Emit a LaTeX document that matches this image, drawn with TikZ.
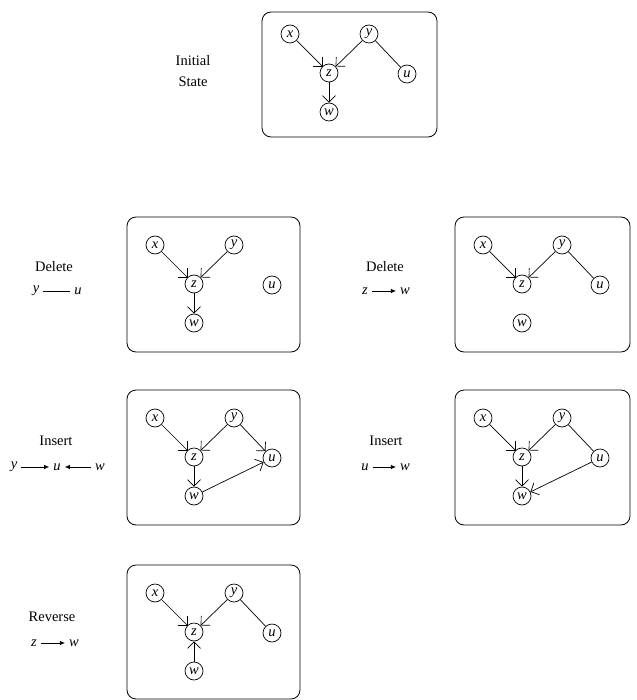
\documentclass[tikz,border=0pt]{standalone}
\usepackage{fontspec}
\setmainfont{Liberation Serif}
\usetikzlibrary{arrows.meta}

% the five variables of one graph, relative to its box corner
\newcommand\placenodes{%
    \node[vertex] (x) at (28,28) {x};
    \node[vertex] (y) at (107,28) {y};
    \node[vertex] (z) at (67,67) {z};
    \node[vertex] (u) at (145,68) {u};
    \node[vertex] (w) at (67,106) {w};
}

\begin{document}
\begin{tikzpicture}[x=1pt, y=-1pt, font=\fontsize{14.5}{21}\selectfont,
    vertex/.style={circle, draw, line width=0.7pt, inner sep=0pt, minimum size=18pt, font=\fontsize{14.5}{16}\selectfont\itshape},
    graphbox/.style={draw, line width=0.8pt, rounded corners=9pt},
    edge/.style={line width=0.7pt},
    arc/.style={edge, -{Straight Barb[length=6.5pt, width=13pt]}},
    var/.style={inner sep=1pt, font=\fontsize{14.5}{16}\selectfont\itshape},
    op/.style={edge, shorten <=3pt, shorten >=3pt, -{Latex[length=5pt, width=4.5pt]}}]
    \useasboundingbox (0,0) rectangle (636,700);

    % Initial state
    \node[align=center] (initlabel) at (193,71) {Initial\\State};
    \begin{scope}[shift={(262,6)}, name prefix=init-]
        \draw[graphbox] (0,6) rectangle (175,131);
        \placenodes
        \draw[arc] (x) -- (z);
        \draw[arc] (y) -- (z);
        \draw[edge] (y) -- (u);
        \draw[arc] (z) -- (w);
    \end{scope}

    % Delete y -- u
    \node (dellabel) at (54,267) {Delete};
    \node[var] (dely) at (36,291) {y};
    \node[var] (delu) at (78,291) {u};
    \draw[edge, shorten <=3pt, shorten >=3pt] (dely) -- (delu);
    \begin{scope}[shift={(127,217)}, name prefix=del-]
        \draw[graphbox] (0,0) rectangle (173,135);
        \placenodes
        \draw[arc] (x) -- (z);
        \draw[arc] (y) -- (z);
        \draw[arc] (z) -- (w);
    \end{scope}

    % Delete z -> w
    \node (cutlabel) at (385,267) {Delete};
    \node[var] (cutz) at (365,291) {z};
    \node[var] (cutw) at (405,291) {w};
    \draw[op] (cutz) -- (cutw);
    \begin{scope}[shift={(455,217)}, name prefix=cut-]
        \draw[graphbox] (0,0) rectangle (175,135);
        \placenodes
        \draw[arc] (x) -- (z);
        \draw[arc] (y) -- (z);
        \draw[edge] (y) -- (u);
    \end{scope}

    % Insert y -> u <- w
    \node (inslabel) at (56,441) {Insert};
    \node[var] (insy) at (14,467) {y};
    \node[var] (insu) at (57,467) {u};
    \node[var] (insw) at (100,467) {w};
    \draw[op] (insy) -- (insu);
    \draw[op] (insw) -- (insu);
    \begin{scope}[shift={(127,390)}, name prefix=ins-]
        \draw[graphbox] (0,0) rectangle (173,135);
        \placenodes
        \draw[arc] (x) -- (z);
        \draw[arc] (y) -- (z);
        \draw[arc] (y) -- (u);
        \draw[arc] (z) -- (w);
        \draw[arc] (w) -- (u);
    \end{scope}

    % Insert u -> w
    \node (addlabel) at (386,441) {Insert};
    \node[var] (addu) at (365,467) {u};
    \node[var] (addw) at (405,467) {w};
    \draw[op] (addu) -- (addw);
    \begin{scope}[shift={(455,390)}, name prefix=add-]
        \draw[graphbox] (0,0) rectangle (175,135);
        \placenodes
        \draw[arc] (x) -- (z);
        \draw[arc] (y) -- (z);
        \draw[edge] (y) -- (u);
        \draw[arc] (z) -- (w);
        \draw[arc] (u) -- (w);
    \end{scope}

    % Reverse z -> w
    \node (revlabel) at (52,617) {Reverse};
    \node[var] (revz) at (34,643) {z};
    \node[var] (revw) at (74,643) {w};
    \draw[op] (revz) -- (revw);
    \begin{scope}[shift={(127,565)}, name prefix=rev-]
        \draw[graphbox] (0,0) rectangle (173,134);
        \placenodes
        \draw[arc] (x) -- (z);
        \draw[arc] (y) -- (z);
        \draw[edge] (y) -- (u);
        \draw[arc] (w) -- (z);
    \end{scope}
\end{tikzpicture}
\end{document}
